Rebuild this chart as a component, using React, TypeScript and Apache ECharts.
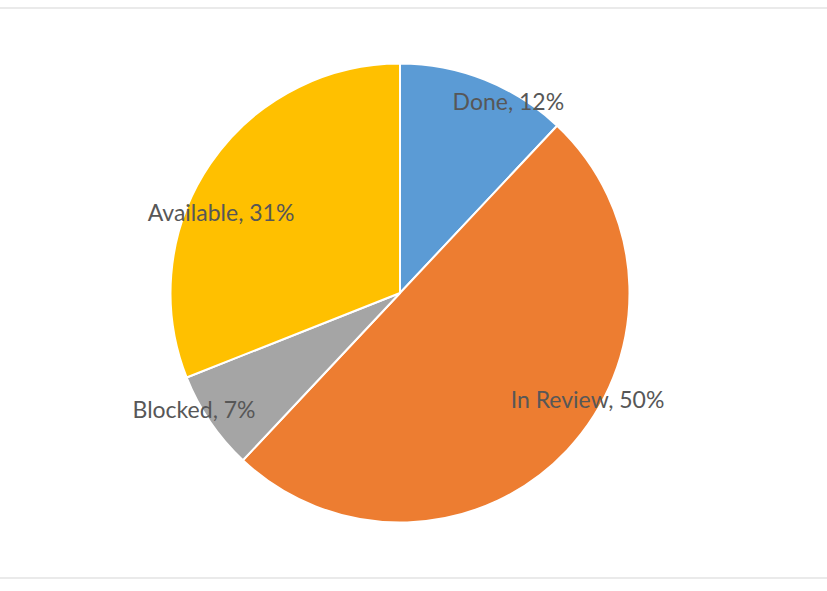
import React, { useEffect, useRef } from "react";
import * as echarts from "echarts";

const categories = ["Done", "In Review", "Blocked", "Available"];
const values = [12, 50, 7, 31];
const colors = ["#5B9BD5", "#ED7D31", "#A5A5A5", "#FFC000"];
// label nudges (pixels) relative to ECharts' inside label anchor, mimicking Excel's best-fit placement
const labelOffsets: [number, number][] = [
  [65, -82.5],
  [101.7, 25.4],
  [-108.6, 50.3],
  [-81.6, -14.8],
];

export default function App() {
  const ref = useRef<HTMLDivElement>(null);
  useEffect(() => {
    document.body.style.margin = "0";
    const chart = echarts.init(ref.current!, null, { renderer: "svg" });
    chart.setOption({
      animation: false,
      backgroundColor: "#ffffff",
      graphic: [
        {
          type: "line",
          shape: { x1: 0, y1: 8, x2: 827, y2: 8 },
          style: { stroke: "#e3e3e3", lineWidth: 1.5 },
        },
        {
          type: "line",
          shape: { x1: 0, y1: 578, x2: 827, y2: 578 },
          style: { stroke: "#e3e3e3", lineWidth: 1.5 },
        },
      ],
      series: [
        {
          type: "pie",
          center: [400, 293],
          radius: [0, 229.5],
          startAngle: 90,
          clockwise: true,
          silent: true,
          itemStyle: { borderColor: "#ffffff", borderWidth: 2 },
          label: {
            show: true,
            position: "inside",
            fontFamily: "Lato",
            fontWeight: 400,
            fontSize: 23,
            color: "#575757",
            formatter: (p: any) => `${p.name}, ${Math.round(p.percent)}%`,
          },
          labelLine: { show: false },
          data: categories.map((name, i) => ({
            name,
            value: values[i],
            itemStyle: { color: colors[i] },
            label: { offset: labelOffsets[i] },
          })),
        },
      ],
    });
    return () => chart.dispose();
  }, []);
  return <div ref={ref} style={{ width: 827, height: 591 }} />;
}
